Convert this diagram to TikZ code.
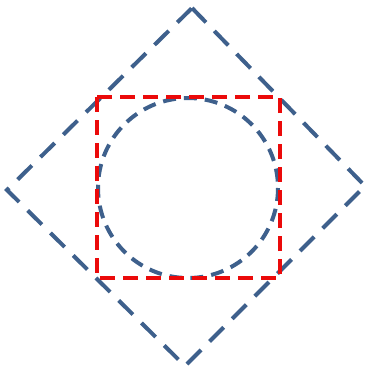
\documentclass[tikz,border=0pt]{standalone}
\definecolor{dblue}{RGB}{62,96,140}
\definecolor{dred}{RGB}{235,10,10}
\begin{document}
\begin{tikzpicture}[x=1pt,y=-1pt,
  diam/.style={draw=dblue,line width=4pt,dash pattern=on 20pt off 12pt},
  circ/.style={draw=dblue,line width=4pt,dash pattern=on 13pt off 8pt},
  sq/.style={draw=dred,line width=4pt,dash pattern=on 15pt off 8pt}]
\useasboundingbox (0,0) rectangle (367,373);
\coordinate (T) at (192,8);
\coordinate (R) at (365,186);
\coordinate (B) at (185,366);
\coordinate (L) at (7,190);
\draw[diam] (T) -- (R) -- (B) -- (L) -- cycle;
\coordinate (c) at (188,188);
\draw[circ] (c) circle[radius=90];
\draw[sq] (97,97) rectangle (280,278);
\end{tikzpicture}
\end{document}
